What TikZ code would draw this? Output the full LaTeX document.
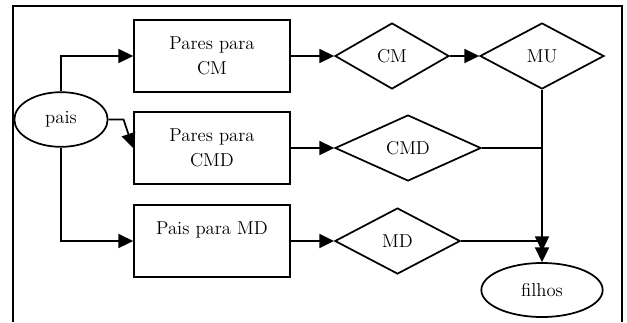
\documentclass[tikz,border=0pt]{standalone}
\usepackage{tikz}
\usetikzlibrary{shapes.geometric, arrows.meta, positioning, calc}

\tikzset{
    box/.style={draw, rectangle, minimum width=117pt, minimum height=54pt, align=center, inner sep=0pt},
    cond/.style={draw, diamond, inner sep=0pt, minimum height=49.5pt},
    term/.style={draw, ellipse, inner sep=0pt},
    flow/.style={-{Triangle[length=11pt,width=10.5pt]}}
}

\begin{document}
\begin{tikzpicture}[x=0.75pt, y=-0.75pt, line width=1.3pt, font=\fontsize{14}{19}\selectfont]
\useasboundingbox (0,0) rectangle (627,322);
% frame
\draw (13,322) -- (13,6) -- (622,6) -- (622,322);

% nodes
\node[term, minimum width=70pt, minimum height=41pt] (pais) at (61,119.5) {pais};
\node[box] (pcm) at (212,56) {Pares para\\CM};
\node[box] (pcmd) at (212,148) {Pares para\\CMD};
\node[box] (pmd) at (212,241) {Pais para MD\\\mbox{}};
\node[cond, minimum width=85.5pt] (cm) at (392,56) {CM};
\node[cond, minimum width=93pt] (mu) at (542,56) {MU};
\node[cond, minimum width=109.5pt] (cmd) at (408,148) {CMD};
\node[cond, minimum width=94pt] (md) at (397.5,241) {MD};
\node[term, minimum width=91pt, minimum height=40.5pt] (filhos) at (542,290) {filhos};

% connectors
\draw[flow] (pais.north) |- (pcm.west);
\draw[flow] (pais.east) -- ++(15,0) -- (pcmd.west);
\draw[flow] (pais.south) |- (pmd.west);
\draw[flow] (pcm) -- (cm);
\draw[flow] (cm) -- (mu);
\draw[flow] (pcmd) -- (cmd);
\draw[flow] (pmd) -- (md);
\draw[flow] (mu.south) -- (filhos.north);
\draw (cmd.east) -- (cmd.east -| mu.south);
\draw[flow] (md.east) -| ($(filhos.north)+(0,-11)$);
\end{tikzpicture}
\end{document}
